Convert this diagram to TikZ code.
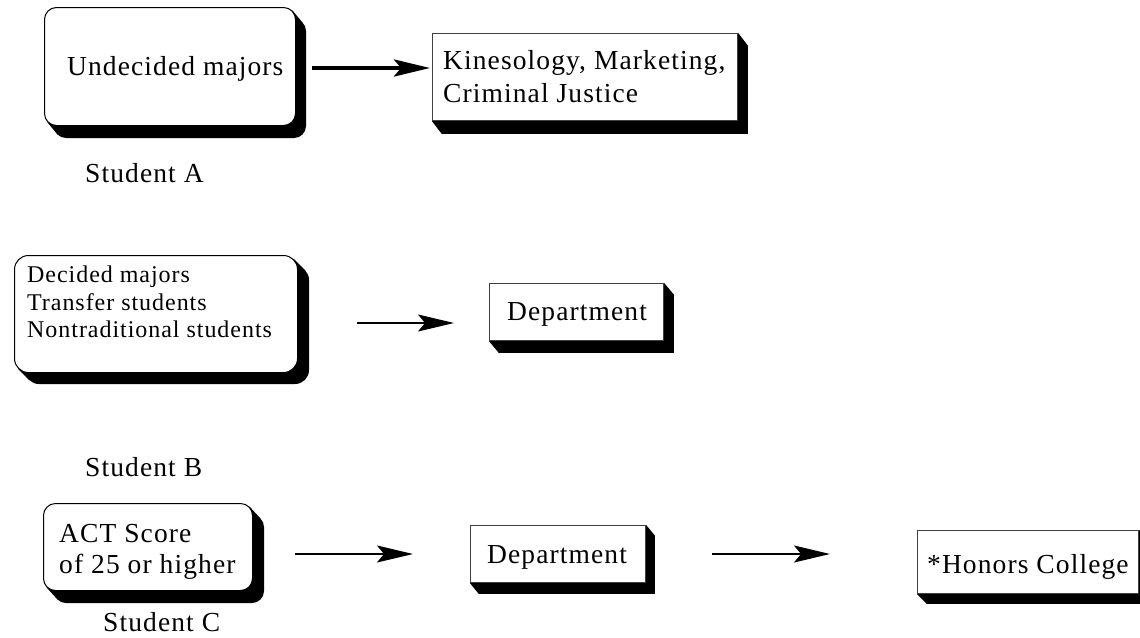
\documentclass[tikz,border=0pt]{standalone}
\usepackage{fontspec}
\setmainfont{Liberation Serif}[LetterSpace=4]
\usetikzlibrary{arrows.meta,backgrounds,calc}
\newcommand\boxshade[4]{%
  \begin{pgfonlayer}{background}
    \fill[black, rounded corners=#4] ($(#1.south west)+(#2,#3)$) rectangle ($(#1.north east)+(#2,#3)$);
    \fill[black] ($(#1.south west)+(0.293*#4,-0.293*#4)$) -- ++(#2,#3)
      -- ($(#1.north east)+(#2,#3)+(-0.293*#4,0.293*#4)$)
      -- ($(#1.north east)+(-0.293*#4,0.293*#4)$) -- cycle;
  \end{pgfonlayer}}
\tikzset{
  rbox/.style={draw=black, line width=1pt, fill=white, inner sep=0pt, anchor=north west},
  sbox/.style={draw=black!75, line width=1.2pt, fill=white, inner sep=0pt, anchor=north west},
  txt/.style={inner sep=0pt, anchor=base west, font=\fontsize{27.5}{33}\selectfont},
  stxt/.style={inner sep=0pt, anchor=base west, font=\fontsize{24}{28}\selectfont},
  arr/.style={-{Stealth[length=36pt,width=17pt,inset=7pt]}, line width=1.5pt},
}
\begin{document}
\begin{tikzpicture}[x=1pt,y=-1pt]
\begin{pgfonlayer}{background}
  \fill[white] (0,0) rectangle (1140,637);
\end{pgfonlayer}
\useasboundingbox (0,0) rectangle (1140,637);

% Student A
\node[rbox, rounded corners=12pt, minimum width=251pt, minimum height=118pt] (a1) at (44,7) {};
\boxshade{a1}{10}{12}{12}
\node[txt] (a1t) at (67,75) {Undecided majors};
\node[sbox, minimum width=305pt, minimum height=87pt] (a2) at (432,33) {};
\boxshade{a2}{10}{13}{0}
\node[txt] (a2t1) at (443,69) {Kinesology, Marketing,};
\node[txt] (a2t2) at (443,102) {Criminal Justice};
\coordinate (aa1) at (312,68);
\coordinate (aa2) at (430,68);
\draw[arr, line width=4pt] (aa1) -- (aa2);
\node[txt] (sa) at (85,182) {Student A};

% Student B
\node[rbox, rounded corners=14pt, minimum width=283pt, minimum height=117pt] (b1) at (14,255) {};
\boxshade{b1}{11}{11}{14}
\node[stxt] (b1t1) at (27,282) {Decided majors};
\node[stxt] (b1t2) at (27,310) {Transfer students};
\node[stxt] (b1t3) at (27,337) {Nontraditional students};
\node[sbox, minimum width=174pt, minimum height=57pt] (b2) at (489,283) {};
\boxshade{b2}{10}{12}{0}
\node[txt] (b2t) at (507,320) {Department};
\coordinate (ab1) at (357,323);
\coordinate (ab2) at (454,323);
\draw[arr] (ab1) -- (ab2);
\node[txt] (sb) at (85,476) {Student B};

% Student C
\node[rbox, rounded corners=12pt, minimum width=209pt, minimum height=87pt] (c1) at (43,503) {};
\boxshade{c1}{11}{12}{12}
\node[txt] (c1t1) at (59,542) {ACT Score};
\node[txt] (c1t2) at (59,573) {of 25 or higher};
\node[sbox, minimum width=175pt, minimum height=57pt] (c2) at (470,525) {};
\boxshade{c2}{9}{11}{0}
\node[txt] (c2t) at (487,563) {Department};
\node[sbox, minimum width=221pt, minimum height=63pt] (c3) at (917,530) {};
\boxshade{c3}{10}{10}{0}
\node[txt] (c3t) at (927,573) {*Honors College};
\coordinate (ac1) at (295,554);
\coordinate (ac2) at (413,554);
\draw[arr] (ac1) -- (ac2);
\coordinate (ac3) at (712,554);
\coordinate (ac4) at (830,554);
\draw[arr] (ac3) -- (ac4);
\node[txt] (sc) at (103,631) {Student C};
\end{tikzpicture}
\end{document}
